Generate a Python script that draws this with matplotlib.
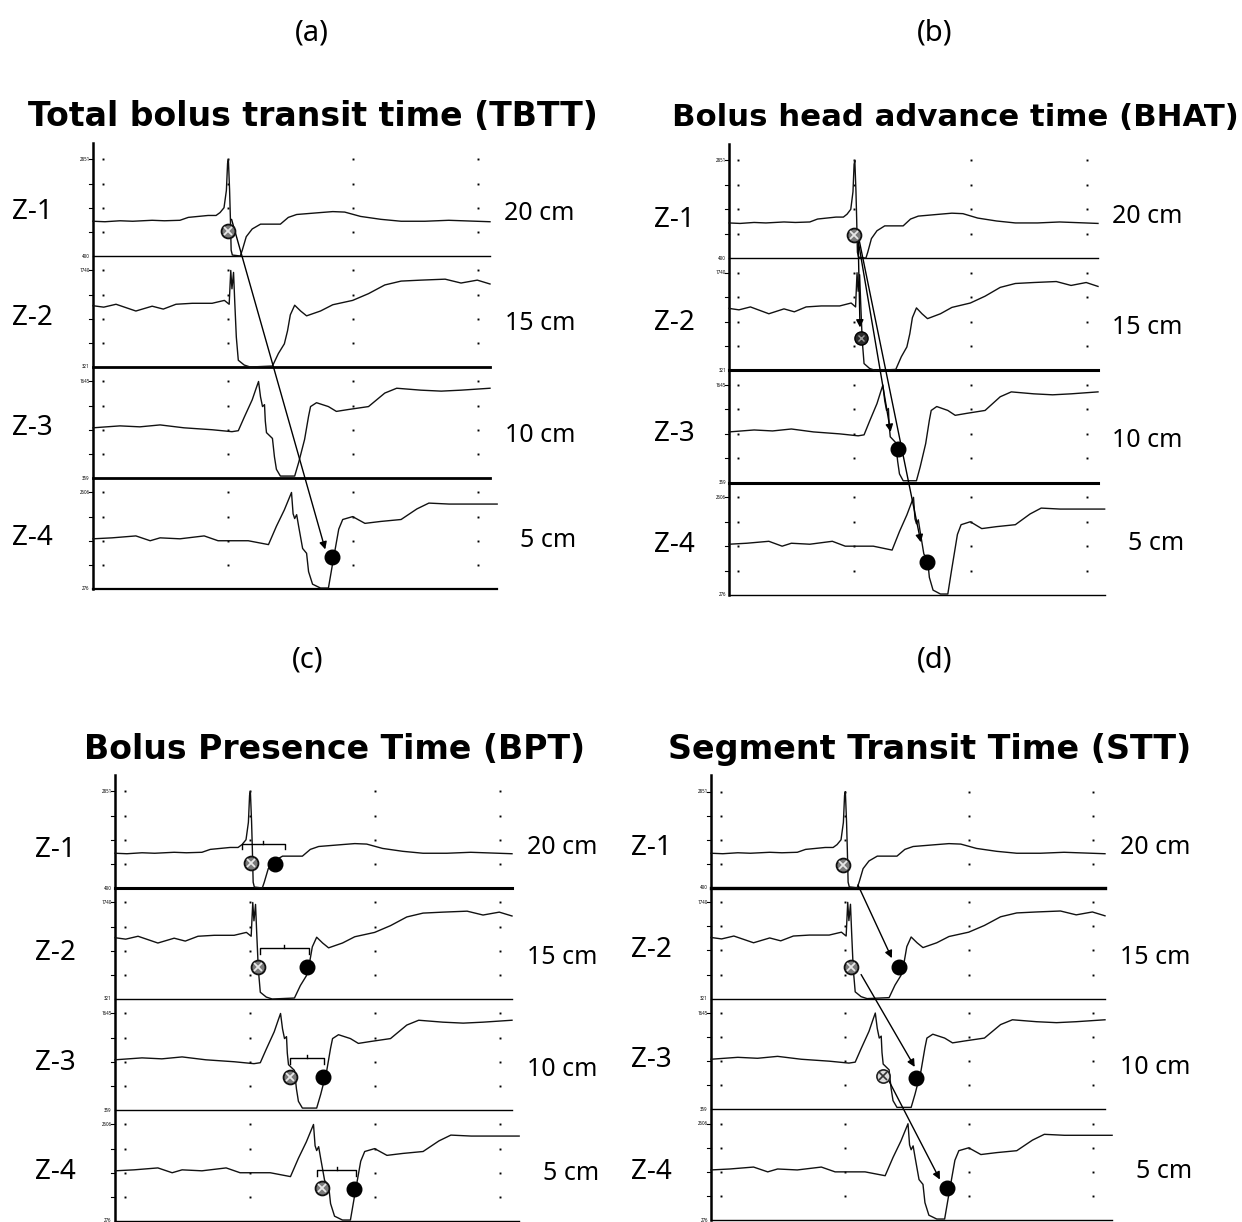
import matplotlib
matplotlib.use("Agg")
import matplotlib.pyplot as plt

# ---------------- data ----------------
CHANNELS = ["Z-1", "Z-2", "Z-3", "Z-4"]
DEPTHS = ["20 cm", "15 cm", "10 cm", "5 cm"]
TOP_LABELS = ["2851", "1740", "1645", "2606"]
BOTTOM_LABELS = ["400", "321", "359", "276"]
PANEL_LETTERS = ["(a)", "(b)", "(c)", "(d)"]
PANEL_TITLES = ["Total bolus transit time (TBTT)",
                "Bolus head advance time (BHAT)",
                "Bolus Presence Time (BPT)",
                "Segment Transit Time (STT)"]

# impedance traces (time 0-100 of the window, value 0 = bottom label, 1 = top label)
T_Z1 = [0, 3.0, 6.8, 10.0, 14.9, 18.0, 21.9, 24.0, 29.0, 31.0, 32.0, 33.0, 33.6, 33.9, 34.1, 34.4,
        34.6, 34.8, 35.1, 37.1, 37.6, 38.6, 40.1, 42.2, 47.2, 49.2, 51.3, 57.3, 60.4, 63.4, 67.4,
        72.5, 77.6, 83.6, 89.6, 100]
V_Z1 = [0.36, 0.355, 0.365, 0.36, 0.37, 0.365, 0.37, 0.40, 0.42, 0.42, 0.45, 0.50, 0.68, 0.96, 1.0, 0.69,
        0.40, 0.06, 0.01, 0.0, 0.06, 0.20, 0.28, 0.33, 0.33, 0.40, 0.43, 0.45, 0.46, 0.455, 0.41,
        0.38, 0.36, 0.36, 0.37, 0.355]

T_Z2 = [0, 2.7, 5.8, 10.8, 14.9, 17.7, 20.9, 25.0, 30.0, 33.1, 34.3, 34.7, 35.0, 35.4, 35.7, 36.1,
        36.6, 38.1, 39.6, 45.2, 46.7, 48.2, 49.0, 49.7, 50.8, 52.3, 53.8, 57.3, 60.4, 65.4, 69.4,
        73.5, 77.6, 82.6, 88.7, 92.7, 96.8, 100]
V_Z2 = [0.635, 0.62, 0.65, 0.58, 0.63, 0.60, 0.65, 0.66, 0.66, 0.69, 0.65, 1.0, 0.81, 0.98, 0.68, 0.31,
        0.07, 0.02, 0.0, 0.01, 0.14, 0.24, 0.375, 0.54, 0.64, 0.58, 0.53, 0.58, 0.645, 0.69, 0.76,
        0.85, 0.89, 0.90, 0.91, 0.87, 0.90, 0.86]

T_Z3 = [0, 6.8, 11.8, 16.9, 22.9, 30.0, 35.0, 36.6, 38.1, 40.1, 41.1, 41.7, 42.2, 42.7, 43.2, 43.4,
        43.7, 45.2, 45.7, 46.2, 47.2, 50.8, 51.8, 53.3, 54.3, 54.8, 56.3, 59.3, 61.3, 64.4, 69.4,
        73.5, 76.5, 82.6, 87.7, 92.7, 100]
V_Z3 = [0.52, 0.54, 0.53, 0.55, 0.52, 0.50, 0.48, 0.49, 0.63, 0.81, 0.93, 1.0, 0.84, 0.74, 0.76, 0.59,
        0.47, 0.41, 0.22, 0.09, 0.02, 0.02, 0.16, 0.40, 0.64, 0.74, 0.78, 0.74, 0.69, 0.71, 0.74,
        0.88, 0.93, 0.91, 0.90, 0.91, 0.93]

T_Z4 = [0, 4.8, 10.8, 14.4, 16.9, 21.9, 28.0, 31.5, 35.0, 39.1, 44.2, 46.2, 48.2, 50.0, 50.4, 50.8,
        51.3, 51.8, 52.8, 53.8, 54.3, 55.3, 57.3, 59.3, 60.3, 61.9, 62.9, 65.4, 68.5, 72.5, 77.6,
        81.6, 84.6, 89.7, 95.8, 101.8]
V_Z4 = [0.52, 0.53, 0.55, 0.50, 0.53, 0.52, 0.55, 0.50, 0.50, 0.50, 0.46, 0.65, 0.82, 1.0, 0.78, 0.73,
        0.77, 0.65, 0.42, 0.37, 0.18, 0.05, 0.01, 0.01, 0.25, 0.62, 0.72, 0.75, 0.68, 0.70, 0.72,
        0.83, 0.89, 0.88, 0.88, 0.88]

TRACES = [(T_Z1, V_Z1), (T_Z2, V_Z2), (T_Z3, V_Z3), (T_Z4, V_Z4)]

# markers: (channel, time, value, kind)  kind: h = hatched start, b = black end
MARKS_A = [(0, 34.1, 0.26, "h"), (3, 60.2, 0.33, "b")]
MARKS_B = [(0, 33.9, 0.24, "h"), (1, 35.9, 0.33, "d"), (2, 45.8, 0.34, "b"), (3, 53.7, 0.34, "b")]
MARKS_C = [(0, 34.2, 0.26, "h"), (0, 40.2, 0.25, "b"),
           (1, 36.0, 0.33, "h"), (1, 48.3, 0.33, "b"),
           (2, 44.1, 0.34, "h"), (2, 52.3, 0.34, "b"),
           (3, 52.1, 0.345, "h"), (3, 60.2, 0.33, "b")]
MARKS_D = [(0, 33.5, 0.24, "h"), (1, 35.5, 0.33, "h"), (1, 47.8, 0.33, "b"),
           (2, 43.7, 0.35, "o"), (2, 52.0, 0.33, "b"), (3, 60.0, 0.33, "b")]

# arrows: ((channel, t, v) start, (channel, t, v) tip)
ARROWS_A = [((0, 34.9, 0.38), (3, 58.5, 0.41))]
ARROWS_B = [((0, 35.0, 0.18), (1, 35.5, 0.44)),
            ((0, 35.0, 0.18), (2, 43.8, 0.52)),
            ((0, 35.3, 0.18), (3, 52.0, 0.54))]
ARROWS_C = []
ARROWS_D = [((0, 37.3, 0.03), (1, 45.9, 0.42)),
            ((1, 38.1, 0.25), (2, 51.7, 0.44)),
            ((2, 45.1, 0.30), (3, 58.1, 0.42))]

# presence brackets in (c): (channel, t_start, t_end, value)
BRACKETS_C = [(0, 32.0, 42.7, 0.46), (1, 36.5, 48.8, 0.525),
              (2, 44.1, 52.6, 0.535), (3, 50.9, 60.7, 0.53)]

GRID_T = [2.5, 34.0, 65.5, 97.0]
GRID_V = [0.25, 0.5, 0.75, 1.0]

# ---------------- layout ----------------
W, H = 1242, 1222
BAND = 1.15
AXIS_TOP = 4.62
FONT = ["Noto Sans", "DejaVu Sans"]
BOLD_FONT = ["DejaVu Sans"]

fig = plt.figure(figsize=(W / 100, H / 100), dpi=100)
renderer = fig.canvas.get_renderer()


def ypos(ch, v):
    return (3 - ch) * BAND + v


def ftext(x, y, s, family=FONT, **kw):
    return fig.text(x / W, 1 - y / H, s, family=family, **kw)


def fit_text(x, y, s, width, **kw):
    t = ftext(x, y, s, **kw)
    bb = t.get_window_extent(renderer=renderer)
    t.set_fontsize(t.get_fontsize() * width / bb.width)
    return t


def make_axes(x0, x1, yb, spacing):
    ppx = (x1 - x0) / 100.0
    ppy = spacing / BAND
    xlo, xhi = -14, 106
    ylo, yhi = -0.05, 4.75
    left, right = x0 + xlo * ppx, x0 + xhi * ppx
    bot, top = yb - ylo * ppy, yb - yhi * ppy
    ax = fig.add_axes([left / W, 1 - bot / H, (right - left) / W, (bot - top) / H])
    ax.set_xlim(xlo, xhi)
    ax.set_ylim(ylo, yhi)
    ax.axis("off")
    return ax


def draw_marker(ax, ch, t, v, kind):
    y = ypos(ch, v)
    if kind == "b":
        ax.plot(t, y, "o", ms=10.5, mfc="black", mec="black", zorder=6)
    elif kind == "d":
        ax.plot(t, y, "o", ms=9.5, mfc="#2a2a2a", mec="black", zorder=6)
        ax.plot(t, y, "x", ms=4, mec="#9a9a9a", mew=1.0, zorder=7)
    elif kind == "o":
        ax.plot(t, y, "o", ms=9.5, mfc="#dcdcdc", mec="#222222", mew=1.2, zorder=6)
        ax.plot(t, y, "x", ms=5.5, mec="#333333", mew=1.2, zorder=7)
    else:
        ax.plot(t, y, "o", ms=10, mfc="#7a7a7a", mec="#111111", mew=1.3, zorder=6)
        ax.plot(t, y, "x", ms=5.5, mec="#e8e8e8", mew=1.3, zorder=7)


PANELS = [
    dict(x0=93, x1=490, yb=589, sp=111.0, base_lw=[1.0, 2.0, 2.0, 1.6],
         letter=(312, 33), title=(313, 126, 570), zx=32, zy=[212, 318, 428, 538],
         cx=[504, 505, 505, 520], cy=[214, 324, 435, 540],
         marks=MARKS_A, arrows=ARROWS_A, brackets=[]),
    dict(x0=729, x1=1098, yb=595, sp=112.3, base_lw=[1.0, 2.2, 2.2, 1.0],
         letter=(935, 33), title=(955, 126, 565), zx=674, zy=[220, 323, 434, 545],
         cx=[1112, 1112, 1112, 1128], cy=[217, 328, 441, 544],
         marks=MARKS_B, arrows=ARROWS_B, brackets=[]),
    dict(x0=115, x1=512, yb=1221, sp=111.0, base_lw=[2.2, 1.0, 1.0, 1.0],
         letter=(308, 660), title=(335, 759, 500), zx=55, zy=[850, 953, 1063, 1172],
         cx=[527, 527, 527, 543], cy=[848, 958, 1070, 1173],
         marks=MARKS_C, arrows=ARROWS_C, brackets=BRACKETS_C),
    dict(x0=711, x1=1105, yb=1220, sp=110.7, base_lw=[2.4, 1.0, 1.0, 1.0],
         letter=(935, 660), title=(930, 759, 522), zx=651, zy=[848, 950, 1060, 1172],
         cx=[1120, 1120, 1120, 1136], cy=[847, 958, 1068, 1172],
         marks=MARKS_D, arrows=ARROWS_D, brackets=[]),
]

for i, P in enumerate(PANELS):
    ax = make_axes(P["x0"], P["x1"], P["yb"], P["sp"])
    # left axis line
    ax.plot([0, 0], [0, AXIS_TOP], color="black", lw=1.8, clip_on=False)
    for ch in range(4):
        # baseline
        ax.plot([0, 101.8 if ch == 3 else 100], [ypos(ch, 0)] * 2, color="black",
                lw=P["base_lw"][ch], clip_on=False)
        # grid dots and axis ticks
        for v in GRID_V:
            ax.plot(GRID_T, [ypos(ch, v)] * len(GRID_T), ls="none", marker="s",
                    ms=1.4, color="black", mew=0)
            ax.plot([-1.0, 0], [ypos(ch, v)] * 2, color="black", lw=0.8)
        # tiny range labels
        ax.text(-0.8, ypos(ch, 1.0), TOP_LABELS[ch], fontsize=3.2, ha="right", va="center",
                family=FONT)
        ax.text(-0.8, ypos(ch, 0.0), BOTTOM_LABELS[ch], fontsize=3.2, ha="right", va="center",
                family=FONT)
        # trace
        t, v = TRACES[ch]
        ax.plot(t, [ypos(ch, val) for val in v], color="#111111", lw=1.0, clip_on=False,
                zorder=3)
    # brackets
    for ch, ta, tb, v in P["brackets"]:
        ax.plot([ta, ta, tb, tb], [ypos(ch, v - 0.06), ypos(ch, v), ypos(ch, v),
                                   ypos(ch, v - 0.06)], color="black", lw=1.0, zorder=4)
        tm = (ta + tb) / 2
        ax.plot([tm, tm], [ypos(ch, v), ypos(ch, v + 0.03)], color="black", lw=1.0, zorder=4)
    # arrows
    for (c0, t0, v0), (c1, t1, v1) in P["arrows"]:
        ax.annotate("", xy=(t1, ypos(c1, v1)), xytext=(t0, ypos(c0, v0)),
                    arrowprops=dict(arrowstyle="-|>", color="black", lw=1.0,
                                    mutation_scale=11, shrinkA=0, shrinkB=0), zorder=5)
    # markers
    for ch, t, v, kind in P["marks"]:
        draw_marker(ax, ch, t, v, kind)

    # texts
    lx, ly = P["letter"]
    ftext(lx, ly, PANEL_LETTERS[i], fontsize=21, ha="center", va="center")
    tx, ty, tw = P["title"]
    fit_text(tx, ty, PANEL_TITLES[i], tw, family=BOLD_FONT, fontsize=22, fontweight="bold",
             ha="center", va="baseline")
    for ch in range(4):
        ftext(P["zx"], P["zy"][ch], CHANNELS[ch], fontsize=20, ha="center", va="center")
        ftext(P["cx"][ch], P["cy"][ch], DEPTHS[ch], fontsize=18, ha="left", va="center")

fig.savefig("out.png", dpi=100, facecolor="white")
